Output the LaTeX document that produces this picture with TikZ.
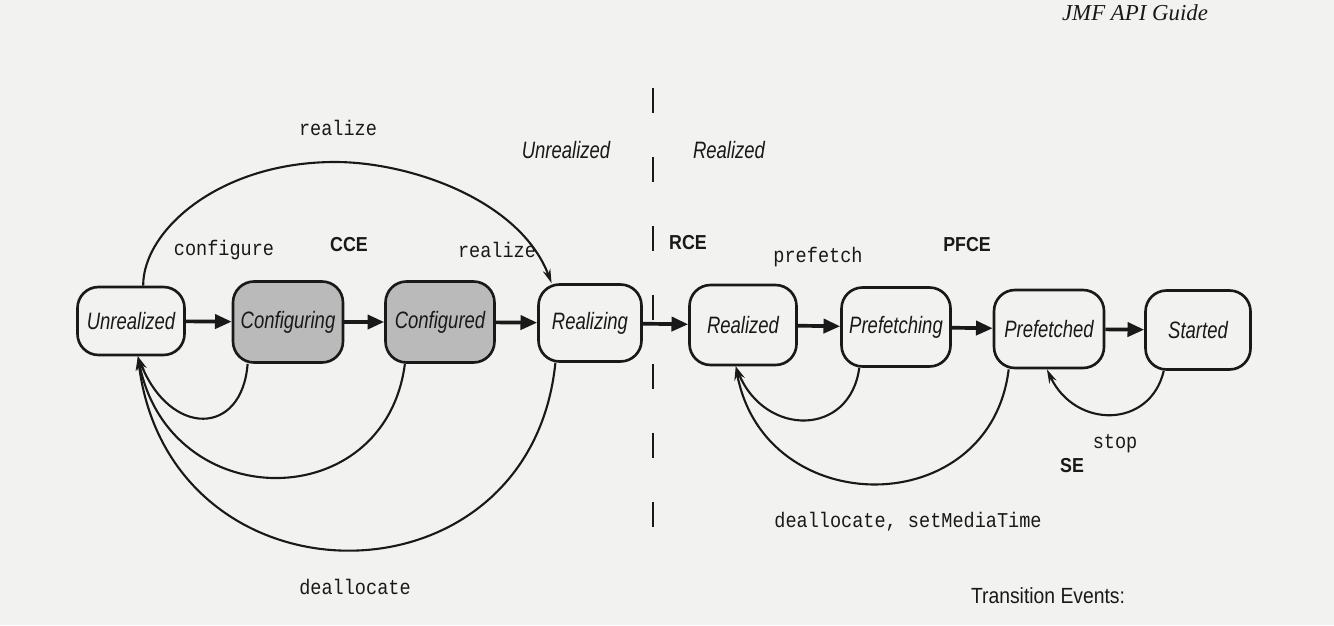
\documentclass[tikz,border=0pt]{standalone}
\usepackage{fontspec}
\setmainfont{Liberation Sans}
\newfontfamily\statefont[FakeStretch=0.78]{Liberation Sans}
\newfontfamily\evfont[FakeStretch=0.88]{Liberation Mono}
\newfontfamily\tagfont[FakeStretch=0.88]{Liberation Sans}
\newfontfamily\headfont{Liberation Serif}
\usetikzlibrary{arrows.meta}

\definecolor{paper}{RGB}{242,242,240}
\definecolor{busy}{RGB}{186,186,186}
\definecolor{ink}{RGB}{25,25,25}

\tikzset{
  state/.style={draw=ink, line width=1.5pt, rounded corners=0.42cm, inner sep=0pt,
    minimum width=2.16cm, minimum height=1.58cm, text=ink,
    font=\statefont\itshape\fontsize{13.5}{16}\selectfont},
  busystate/.style={state, fill=busy},
  flow/.style={draw=ink, line width=2.1pt, -{Triangle[length=9.5pt,width=8pt]}},
  back/.style={draw=ink, line width=1.2pt, -{Stealth[length=8pt,width=4.5pt]}},
  event/.style={font=\evfont\fontsize{12}{14}\selectfont, text=ink, inner sep=0pt},
  tag/.style={font=\tagfont\bfseries\fontsize{11.5}{14}\selectfont, text=ink, inner sep=0pt},
  region/.style={font=\statefont\itshape\fontsize{13.5}{16}\selectfont, text=ink, inner sep=0pt},
  divider/.style={draw=ink, line width=1.4pt, dash pattern=on 0.5cm off 0.88cm},
}

\begin{document}
\begin{tikzpicture}[x=0.02cm, y=-0.02cm]
  % page
  \fill[paper] (0,0) rectangle (1334,625);
  \useasboundingbox (0,0) rectangle (1334,625);

  % running head of the page
  \node[anchor=base, inner sep=0pt, text=ink, font=\headfont\itshape\fontsize{13}{15}\selectfont]
    (runhead) at (1135,21) {JMF API Guide};

  % states
  \node[state, minimum width=2.14cm, minimum height=1.36cm] (unr)    at (131,321)  {Unrealized};
  \node[busystate, minimum width=2.2cm, minimum height=1.62cm] (cfging) at (288,322) {Configuring};
  \node[busystate, minimum width=2.18cm, minimum height=1.62cm] (cfged) at (440,322) {Configured};
  \node[state, minimum width=2.06cm, minimum height=1.54cm] (rzing)  at (590,323)  {Realizing};
  \node[state, minimum width=2.14cm, minimum height=1.6cm]  (rzed)   at (743,325)  {Realized};
  \node[state, minimum width=2.18cm, minimum height=1.58cm] (pfing)  at (896,327)  {Prefetching};
  \node[state, minimum width=2.2cm, minimum height=1.56cm]  (pfed)   at (1049,329) {Prefetched};
  \node[state, minimum width=2.1cm, minimum height=1.58cm]  (start)  at (1198,330) {Started};

  % divider between unrealized and realized halves
  \coordinate (divtop) at (653,88);
  \coordinate (divbot) at (653,528);
  \draw[divider] (divtop) -- (divbot);

  % forward transitions
  \draw[flow] (unr) -- (cfging);
  \draw[flow] (cfging) -- (cfged);
  \draw[flow] (cfged) -- (rzing);
  \draw[flow] (rzing) -- (rzed);
  \draw[flow] (rzed) -- (pfing);
  \draw[flow] (pfing) -- (pfed);
  \draw[flow] (pfed) -- (start);

  % direct realize from Unrealized
  \draw[back] (unr.71) .. controls (143,230) and (220,162) .. (335,162)
                       .. controls (410,162) and (520,200) .. (rzing.134);

  % deallocate loops back to Unrealized
  \draw[back] (cfging.226) .. controls (242,437) and (170,437) .. (unr.281);
  \draw[back] (cfged.230)  .. controls (385,516) and (170,516) .. (unr.281);
  \draw[back] (rzing.229)  .. controls (530,613) and (170,613) .. (unr.281);

  % loops back to Realized and Prefetched
  \draw[back] (pfing.228) .. controls (850,437) and (765,437) .. (rzed.260);
  \draw[back] (pfed.225)  .. controls (990,522) and (765,522) .. (rzed.260);
  \draw[back] (start.230) .. controls (1150,429) and (1075,429) .. (pfed.267);

  % labels
  \node[event]  (lrealtop)  at (338,128)  {realize};
  \node[region] (lunreg)    at (566,150)  {Unrealized};
  \node[region] (lrereg)    at (729,150)  {Realized};
  \node[event]  (lconf)     at (224,250)  {configure};
  \node[tag]    (lcce)      at (349,245)  {CCE};
  \node[event]  (lreal)     at (497,250)  {realize};
  \node[tag]    (lrce)      at (688,243)  {RCE};
  \node[event]  (lpref)     at (818,257)  {prefetch};
  \node[tag]    (lpfce)     at (967,245)  {PFCE};
  \node[event]  (lstop)     at (1115,444) {stop};
  \node[tag]    (lse)       at (1072,466) {SE};
  \node[event]  (ldealset)  at (908,522)  {deallocate, setMediaTime};
  \node[event]  (ldeal)     at (355,587)  {deallocate};
  \node[inner sep=0pt, text=ink, font=\tagfont\fontsize{12.5}{14}\selectfont]
    (ltrans) at (1048,596) {Transition Events:};
\end{tikzpicture}
\end{document}
